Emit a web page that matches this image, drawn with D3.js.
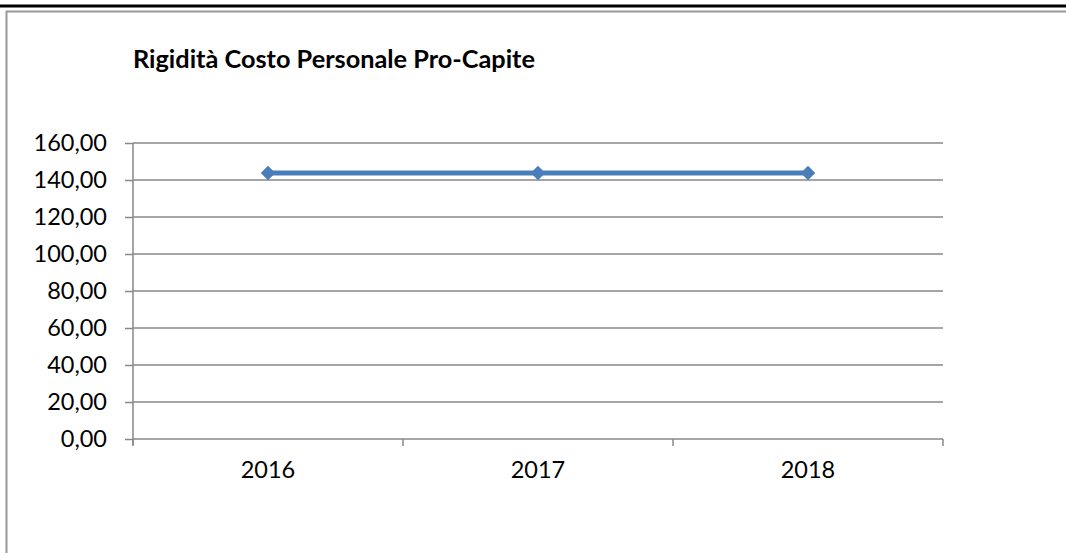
<!DOCTYPE html>
<html><head><meta charset="utf-8">
<script src="https://cdn.jsdelivr.net/npm/d3@7"></script>
<style>html,body{margin:0;padding:0;background:#fff;}svg{display:block;}</style>
</head><body>
<svg id="c" width="1066" height="553"></svg>
<script>
const title = "Rigidità Costo Personale Pro-Capite";
const categories = ["2016", "2017", "2018"];
const values = [143.8, 143.8, 143.8];
const yTicks = [0, 20, 40, 60, 80, 100, 120, 140, 160];

const svg = d3.select("#c");
const m = {left: 133, right: 943, top: 143, bottom: 439};
const font = "Lato, 'Open Sans', sans-serif";
const gridColor = "#888888";

// frame
svg.append("line").attr("x1", 0).attr("x2", 1066).attr("y1", 6).attr("y2", 6)
  .attr("stroke", "#000").attr("stroke-width", 3);
svg.append("path").attr("d", "M6.5,553 V11.5 H1066")
  .attr("fill", "none").attr("stroke", "#999").attr("stroke-width", 2);

svg.append("text").attr("x", 133).attr("y", 68).text(title)
  .attr("font-family", font).attr("font-weight", "bold").attr("font-size", 25.3).attr("fill", "#000");

const x = d3.scaleBand().domain(categories).range([m.left, m.right]);
const y = d3.scaleLinear().domain([0, 160]).range([m.bottom, m.top]);

// gridlines
svg.append("g").selectAll("line").data(yTicks.filter(d => d > 0)).join("line")
  .attr("x1", m.left).attr("x2", m.right)
  .attr("y1", d => y(d)).attr("y2", d => y(d))
  .attr("stroke", gridColor).attr("stroke-width", 1.5);

// y axis
const ya = svg.append("g").attr("transform", `translate(${m.left},0)`)
  .call(d3.axisLeft(y).tickValues(yTicks).tickSize(8).tickPadding(18)
    .tickFormat(d => d3.format(".2f")(d).replace(".", ",")));
ya.select(".domain").attr("stroke", gridColor).attr("stroke-width", 1.5)
  .attr("d", `M0,${m.top}V${m.bottom + 6}`);
ya.selectAll(".tick line").attr("stroke", gridColor).attr("stroke-width", 1.5);
ya.selectAll(".tick text").attr("font-family", font).attr("font-size", 23.5).attr("fill", "#000");

// x axis
const xa = svg.append("g").attr("transform", `translate(0,${m.bottom})`)
  .call(d3.axisBottom(x).tickSize(0).tickPadding(22));
xa.select(".domain").attr("stroke", gridColor).attr("stroke-width", 1.5)
  .attr("d", `M${m.left},0H${m.right}`);
xa.selectAll(".tick text").attr("font-family", font).attr("font-size", 23.5).attr("fill", "#000");
const bounds = categories.map(c => x(c)).concat([x(categories[categories.length - 1]) + x.bandwidth()]);
xa.append("g").selectAll("line").data(bounds).join("line")
  .attr("x1", d => d).attr("x2", d => d).attr("y1", 0).attr("y2", 7)
  .attr("stroke", gridColor).attr("stroke-width", 1.5);

// series
const cx = d => x(d) + x.bandwidth() / 2;
const pts = categories.map((c, i) => [cx(c), y(values[i])]);
svg.append("path").attr("d", d3.line()(pts))
  .attr("fill", "none").attr("stroke", "#4a7ebb").attr("stroke-width", 5);
svg.append("g").selectAll("path").data(pts).join("path")
  .attr("transform", d => `translate(${d[0]},${d[1]})`)
  .attr("d", d3.symbol(d3.symbolDiamond2, 135)())
  .attr("fill", "#4a7ebb");
</script>
</body></html>
